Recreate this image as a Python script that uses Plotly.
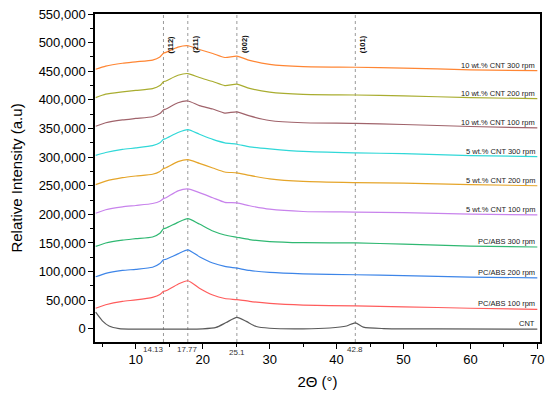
import plotly.graph_objects as go

# ---- data ----
x_common = [4, 5.5, 8, 10, 12.5, 13.6, 14.13, 14.5, 16.3, 17.77, 19.5, 21.5, 23.3, 25.1, 27, 30, 35, 42.8, 50, 60, 70]

pcabs_100 = [36000, 42000, 48000, 50500, 55000, 60000, 65500, 66500, 78000, 84000, 71000, 59000, 53000, 51000, 48000, 44500, 41500, 40000, 38500, 36000, 34000]
pcabs_200 = [91000, 97000, 102000, 104000, 107500, 114000, 120500, 121500, 131000, 138000, 126000, 115000, 109000, 106000, 102000, 98500, 96000, 94500, 93000, 90500, 89000]
pcabs_300 = [144000, 150000, 155000, 157500, 160500, 167000, 175000, 176000, 186000, 192500, 183000, 171000, 164000, 160000, 156000, 152500, 150500, 150000, 148000, 144500, 143000]
cnt5_100 = [202000, 208000, 213000, 215500, 219000, 223000, 227500, 229000, 241000, 244500, 238000, 229000, 221000, 220000, 215000, 209000, 205000, 204000, 203000, 200500, 199000]
cnt5_200 = [252000, 258000, 264000, 267000, 270000, 275000, 280000, 281500, 292000, 295500, 289000, 281000, 274000, 272500, 268000, 262000, 257500, 255500, 254500, 252000, 250000]
cnt5_300 = [303000, 308000, 313500, 316000, 320000, 325000, 331000, 332500, 343000, 348000, 340000, 331000, 325000, 322500, 318000, 314500, 310000, 307500, 306000, 302500, 301000]
cnt10_100 = [354000, 360000, 365000, 367500, 370500, 376000, 382500, 384000, 395000, 398000, 390000, 384000, 377000, 379000, 372000, 364000, 360000, 359000, 357000, 353500, 351000]
cnt10_200 = [404000, 410000, 414000, 416500, 419500, 425000, 431500, 433000, 443000, 446000, 439000, 432000, 425000, 427500, 420000, 413500, 409500, 408500, 407000, 404000, 402000]
cnt10_300 = [453500, 459000, 464000, 466500, 469500, 475000, 481500, 483000, 492000, 494500, 488000, 481000, 474000, 476500, 469000, 462000, 458000, 457000, 455500, 452500, 451000]

x_cnt = [4, 5, 6, 7.5, 10, 15, 20, 22, 23.5, 25.1, 26.5, 28, 30, 35, 39, 41.5, 42.8, 44, 47, 55, 70]
cnt = [29000, 14000, 5000, 500, -500, -500, 0, 2500, 11000, 20000, 13000, 4000, 1000, 0, 1500, 5000, 10500, 3000, 500, 0, -500]

series_names = ["CNT", "PC/ABS 100 rpm", "PC/ABS 200 rpm", "PC/ABS 300 rpm",
                "5 wt.% CNT 100 rpm", "5 wt.% CNT 200 rpm", "5 wt.% CNT 300 rpm",
                "10 wt.% CNT 100 rpm", "10 wt.% CNT 200 rpm", "10 wt.% CNT 300 rpm"]
series_x = [x_cnt] + [x_common] * 9
series_y = [cnt, pcabs_100, pcabs_200, pcabs_300, cnt5_100, cnt5_200, cnt5_300,
            cnt10_100, cnt10_200, cnt10_300]
colors = ["#5a5a5a", "#ff5c5c", "#3d85e8", "#2fb872", "#c883ec", "#e5a52a",
          "#30d8d8", "#a0636b", "#a9ad30", "#ff8634"]

peak_pos = [14.13, 17.77, 25.1, 42.8]
peak_pos_labels = ["14.13", "17.77", "25.1", "42.8"]
peak_hkl = ["(112)", "(211)", "(002)", "(101)"]

y_ticks = list(range(0, 550001, 50000))
x_ticks = [10, 20, 30, 40, 50, 60, 70]

FONT = "Arial, Liberation Sans, sans-serif"

fig = go.Figure()
for name, xs, ys, c in zip(series_names, series_x, series_y, colors):
    fig.add_trace(go.Scatter(x=xs, y=ys, mode="lines", name=name,
                             line=dict(color=c, width=1.2, shape="spline", smoothing=0.6)))
    fig.add_annotation(x=70, y=ys[-1], xref="x", yref="y", text=name, showarrow=False,
                       xanchor="right", yanchor="bottom", yshift=-1,
                       font=dict(family=FONT, size=7.5, color="#222"))

label_yshift = [-1, -1, -4, -1]
for p, lab, hkl, ys in zip(peak_pos, peak_pos_labels, peak_hkl, label_yshift):
    fig.add_shape(type="line", x0=p, x1=p, xref="x", yref="paper", y0=0, y1=1,
                  line=dict(color="#999999", width=1, dash="dot"), layer="below")
    fig.add_annotation(x=p, y=0, xref="x", yref="paper", text=lab, showarrow=False,
                       xanchor="right" if lab == "14.13" else "center", yanchor="top",
                       yshift=ys, xshift=3 if lab == "14.13" else 0,
                       font=dict(family=FONT, size=8, color="#333"))
    fig.add_annotation(x=p, y=0.942, xref="x", yref="paper", text="<b>" + hkl + "</b>",
                       showarrow=False, textangle=-90, xshift=7,
                       font=dict(family=FONT, size=7.5, color="#111"))

fig.update_layout(
    width=550, height=399,
    margin=dict(l=95, r=10, t=14, b=57, autoexpand=False),
    paper_bgcolor="white", plot_bgcolor="white",
    showlegend=False,
    font=dict(family=FONT, color="black"),
)
fig.update_xaxes(range=[3.9, 70.4], tickvals=x_ticks, ticks="outside", ticklen=5, tickwidth=1.2,
                 tickcolor="black", showline=True, mirror=True, linecolor="black", linewidth=1.5,
                 showgrid=False, zeroline=False, tickfont=dict(size=13), automargin=False,
                 minor=dict(dtick=5, tick0=0, ticks="outside", ticklen=3, tickcolor="black"),
                 title=dict(text="2Θ (°)", font=dict(size=15), standoff=10))
fig.update_yaxes(range=[-23000, 550000], tickvals=y_ticks, tickformat=",", ticks="outside",
                 ticklen=5, tickwidth=1.2, tickcolor="black", showline=True, mirror=True,
                 linecolor="black", linewidth=1.5, showgrid=False, zeroline=False,
                 tickfont=dict(size=13), automargin=False,
                 minor=dict(dtick=25000, tick0=0, ticks="outside", ticklen=3, tickcolor="black"),
                 title=dict(text="Relative Intensity (a.u)", font=dict(size=15), standoff=12))

fig.write_html("out.html", config={"displayModeBar": False},
               post_script="document.body.style.margin='0';document.body.style.overflow='hidden';")
